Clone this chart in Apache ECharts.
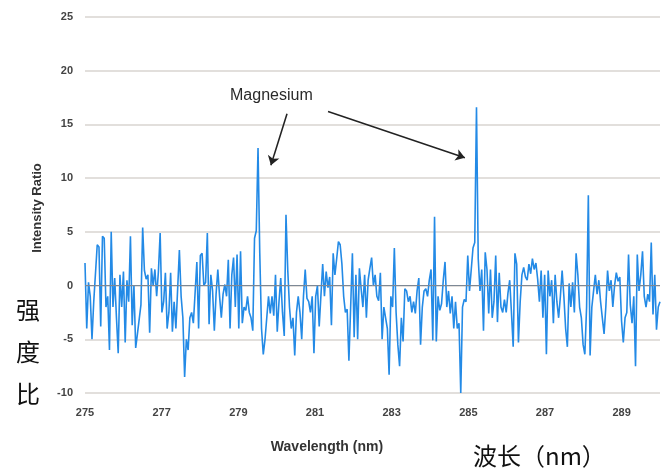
<!DOCTYPE html>
<html>
<head>
<meta charset="utf-8">
<script src="https://cdn.jsdelivr.net/npm/echarts@6.0.0/dist/echarts.min.js"></script>
<style>
  html, body { margin: 0; padding: 0; background: #fff; }
  #chart { width: 666px; height: 468px; }
</style>
</head>
<body>
<div id="chart"></div>
<script>
// 波长范围 (nm)，采样均匀
var startNm = 275;
var endNm = 290;
// x 轴刻度
var xTickLabels = [275, 277, 279, 281, 283, 285, 287, 289];
// 强度比
var intensityRatio = [
  2.1, -4, 0.3, -1, -5, -1.5, -1.6, 3.8, 3.6, -3.8, 4.6, 4.4, -2, -1, -6, 5, -2, 0.7, -3, -6.3,
  1, -2, 1.3, -5.3, 0.5, -1.5, 4.6, -3.7, 0, -5.8, -4.5, -4.5, -1.8, 5.4, 1.4, 0.6, 1, -4.4, 1.6, 0,
  1.5, -1, 1.3, 4.9, -2.5, -1.5, 1.2, -4, -2.5, 1.2, -4.3, -1.5, -4, -4, 3.3, -1, -3, -8.5, -5, -6,
  -3, -2.5, -3.5, -3.5, 2.2, -4, 2.8, 3, 0, 0.3, 4.9, -3.6, 1, -0.5, -4.2, -0.8, 1.5, -1, -3, -0.8,
  0.1, -1, 2.4, -4, 1, 2.6, -2, 2.9, -4, 3.2, -3.5, -2, -2.3, -1, -2.5, -3, -4.2, 4.4, 5.1, 12.8,
  3, -4, -6.4, -5, -3, -1, -2.6, -1, -2.8, 1, -4.3, -1.5, 0.7, -2.5, -4.7, 6.6, 1.5, -2, -4, -3,
  -6.5, -2.5, -1, -2.5, -5, -1, 1.5, -1.2, -1.5, -2.5, -1, -6.3, -1, 0, -3.8, -3.8, 2, -1, 1.3, -0.2,
  0.8, -3.7, 3, 1, 2.5, 4.1, 3.8,
  2, -1, -2.5, -2.2, -7, -2, 3, -4.8, 1, -5, 1.6, -0.3, -2, 1, -3, 0.5, 1.6, 2.6, 0, 1,
  -1, -1.4, 1.2, -5, -2, -3, -4, -8.3, -1, -2, 3.5, -2.5, -5.5, -7.5, -3, -5.2, -0.3, -0.5, -1.5, -1,
  -2.5, -1.5, -2.6, -0.5, 0.7, -5.5, -2, -0.5, -0.3, -1, 0.5, 1.5, -5.1, 6.4, -5.2, -1, -2.3, -1.7, 0.5, 2.2,
  -2, -0.5, -2.6, -1, -4, -1.5, -4, -3.5, -10, -2, -1.3, -1.5, 2.8, -0.5, 1.5, 3.5, 4, 16.6, 2.5, -0.5,
  1.5, -4.2, 3.1, 1.5, -2.6, 1.5, -3, -1.5, 2.8, -3.4, 1.2, -2, -2.5, -1.3, -2.5, -0.7, 0.5, -2.5, -5.7, 3,
  2, -5.3, -1.5, 1, 1.7, 0.8, 0.5, 2, 1.1, 2.5, 1.5, 2.1, 0.6, -1.5, 1.4, -3, 1, -6.4, 1.4, -1,
  0.5, -3.5, 1, -1.5, -3, -1, 1.4, -1, -4, -5.7, 0.2, -2, 0.3, -2.5, 3, 1, -2, -3, -5.5, -6.4,
  -2, 8.4, -6.5, -2, -0.5, 1, -0.8, 0.5, -1.5, -3, -4.5, -2, 1.4, -0.5, 0.5, -2, 0, 1.2, 0.4, 0.8,
  -3.3, -5.3, -3, -2.5, 2.9, -1.8, -3.5, -1, -7.5, 2.9, -0.5, 1, 3.2, -1, -2, -0.8, -1.5, 4, -2.7, 1,
  -4.1, -2, -1.5
];
// 箭头起止点 [波长, 强度比]
var arrowFrom = [[280.27, 16.0], [281.34, 16.2]];
var arrowTo = [[279.85, 11.2], [284.91, 11.9]];

var stepNm = (endNm - startNm) / (intensityRatio.length - 1);
var seriesData = intensityRatio.map(function (v, i) {
  return [startNm + i * stepNm, v];
});

// 指向镁峰的箭头
var arrowLines = arrowFrom.map(function (p, i) {
  return [
    { coord: p, symbol: 'none', lineStyle: { color: '#222', width: 1.5, type: 'solid' } },
    { coord: arrowTo[i], symbol: 'arrow' }
  ];
});
// 零线
var zeroLine = [
  { coord: [startNm, 0], symbol: 'none', lineStyle: { color: '#7d8895', width: 1, type: 'solid' } },
  { coord: [endNm, 0], symbol: 'none' }
];

var myChart = echarts.init(document.getElementById('chart'));
var option = {
  animation: false,
  grid: { left: 85, right: 6, top: 17, bottom: 75 },
  xAxis: {
    type: 'value',
    min: startNm,
    max: endNm,
    axisLine: { show: false },
    axisTick: { show: false },
    splitLine: { show: false },
    axisLabel: {
      customValues: xTickLabels,
      margin: 14,
      fontSize: 11,
      fontWeight: 'bold',
      color: '#444',
      fontFamily: 'Liberation Sans'
    }
  },
  yAxis: {
    type: 'value',
    min: -10,
    max: 25,
    interval: 5,
    axisLine: { show: false },
    axisTick: { show: false },
    splitLine: { lineStyle: { color: '#d9d5d0', width: 1.5 } },
    axisLabel: {
      margin: 12,
      fontSize: 11,
      fontWeight: 'bold',
      color: '#444',
      fontFamily: 'Liberation Sans'
    }
  },
  series: [{
    type: 'line',
    data: seriesData,
    showSymbol: false,
    lineStyle: { color: '#238ae6', width: 1.6 },
    markLine: {
      silent: true,
      label: { show: false },
      symbol: ['none', 'none'],
      symbolSize: 9,
      data: [zeroLine].concat(arrowLines)
    }
  }],
  graphic: [
    {
      type: 'text', left: 230, top: 88,
      style: { text: 'Magnesium', font: '16px "Liberation Sans"', fill: '#2a2a2a' }
    },
    {
      type: 'text', x: 37, y: 208, rotation: Math.PI / 2,
      style: {
        text: 'Intensity Ratio', font: 'bold 13px "Liberation Sans"', fill: '#333',
        align: 'center', verticalAlign: 'middle'
      }
    },
    {
      type: 'text', x: 327, y: 447,
      style: {
        text: 'Wavelength (nm)', font: 'bold 14px "Liberation Sans"', fill: '#333',
        align: 'center', verticalAlign: 'middle'
      }
    },
    {
      type: 'text', x: 28, y: 310,
      style: { text: '强', font: '24px "Noto Sans CJK SC"', fill: '#111', align: 'center', verticalAlign: 'middle' }
    },
    {
      type: 'text', x: 28, y: 352,
      style: { text: '度', font: '24px "Noto Sans CJK SC"', fill: '#111', align: 'center', verticalAlign: 'middle' }
    },
    {
      type: 'text', x: 28, y: 394,
      style: { text: '比', font: '24px "Noto Sans CJK SC"', fill: '#111', align: 'center', verticalAlign: 'middle' }
    },
    {
      type: 'text', x: 473, y: 456,
      style: { text: '波长（nm）', font: '24px "Noto Sans CJK SC"', fill: '#111', align: 'left', verticalAlign: 'middle' }
    }
  ]
};
myChart.setOption(option);
</script>
</body>
</html>
